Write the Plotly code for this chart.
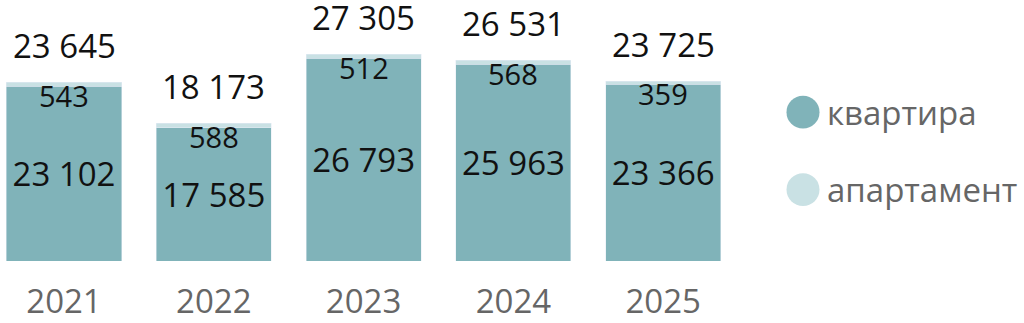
import plotly.graph_objects as go

years = ["2021", "2022", "2023", "2024", "2025"]
kvartira = [23102, 17585, 26793, 25963, 23366]
apartament = [543, 588, 512, 568, 359]
totals = [23645, 18173, 27305, 26531, 23725]
series_names = ["квартира", "апартамент"]

C_DARK = "#80B3B9"
C_LIGHT = "#C9E1E4"
FONT = "Open Sans"

def fmt(v):
    return f"{v:,}".replace(",", " ")

W, H = 1024, 323
ML, MR, MT, MB = 0, 287, 0, 60
PW, PH = W - ML - MR, H - MT - MB

def px2paper_x(px):
    return (px - ML) / PW

def px2paper_y(py):
    return (H - MB - py) / PH

fig = go.Figure()
fig.add_trace(go.Bar(
    x=years, y=kvartira, name=series_names[0], marker_color=C_DARK,
    text=[fmt(v) for v in kvartira], textposition="inside",
    insidetextanchor="middle", constraintext="none",
    textfont=dict(size=33, color="#111111", family=FONT),
    hoverinfo="skip",
))
fig.add_trace(go.Bar(
    x=years, y=apartament, name=series_names[1], marker_color=C_LIGHT,
    hoverinfo="skip",
))

for i, (k, a, t) in enumerate(zip(kvartira, apartament, totals)):
    fig.add_annotation(x=i, y=k, text=fmt(a), showarrow=False,
                       yanchor="middle", yshift=-9,
                       font=dict(size=29, color="#111111", family=FONT))
    fig.add_annotation(x=i, y=t, text=fmt(t), showarrow=False,
                       yanchor="middle", yshift=37,
                       font=dict(size=33, color="#111111", family=FONT))

# custom legend with large circles
legend_items = [(series_names[0], C_DARK, 113), (series_names[1], C_LIGHT, 191)]
r = 16.5
cx = 803
for name, col, cy in legend_items:
    fig.add_shape(type="circle", xref="paper", yref="paper",
                  x0=px2paper_x(cx - r), x1=px2paper_x(cx + r),
                  y0=px2paper_y(cy + r), y1=px2paper_y(cy - r),
                  fillcolor=col, line=dict(width=0))
    fig.add_annotation(xref="paper", yref="paper", x=px2paper_x(825),
                       y=px2paper_y(cy), text=name, showarrow=False,
                       xanchor="left", yanchor="middle",
                       font=dict(size=33, color="#666666", family=FONT))

ppu = 0.007627
ymax = PH / ppu
x0 = -64 / 149.8
x1 = x0 + PW / 149.8

fig.update_layout(
    width=W, height=H, barmode="stack", bargap=0.232,
    margin=dict(l=ML, r=MR, t=MT, b=MB),
    paper_bgcolor="white", plot_bgcolor="white",
    showlegend=False,
    font=dict(family=FONT),
    xaxis=dict(type="category", range=[x0, x1], showgrid=False, showline=False,
               zeroline=False,
               tickfont=dict(size=33, color="#666666", family=FONT),
               ticks="", ticklabelstandoff=18),
    yaxis=dict(range=[0, ymax], visible=False, showgrid=False),
)

fig.write_html("out.html")
